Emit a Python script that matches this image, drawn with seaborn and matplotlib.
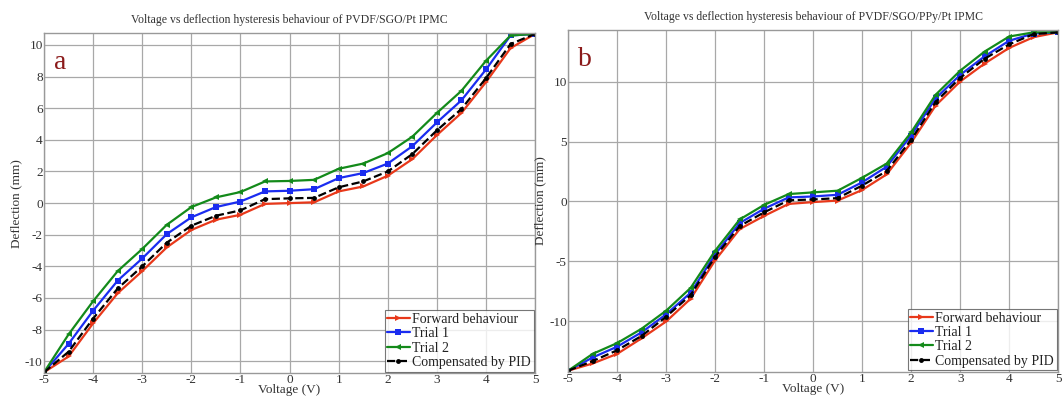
import seaborn as sns
import matplotlib.pyplot as plt
import pandas as pd

voltage = [-5, -4.5, -4, -3.5, -3, -2.5, -2, -1.5, -1, -0.5, 0,
           0.5, 1, 1.5, 2, 2.5, 3, 3.5, 4, 4.5, 5]

# panel a : PVDF/SGO/Pt
a_forward = [-10.7, -9.7, -7.6, -5.7, -4.3, -2.8, -1.7, -1.05, -0.74, -0.05, 0.0,
             0.05, 0.74, 1.05, 1.73, 2.78, 4.3, 5.7, 7.65, 9.8, 10.7]
a_trial1 = [-10.7, -8.9, -6.8, -4.9, -3.5, -1.96, -0.9, -0.25, 0.1, 0.74, 0.78,
            0.88, 1.58, 1.9, 2.5, 3.6, 5.1, 6.5, 8.45, 10.6, 10.7]
a_trial2 = [-10.7, -8.3, -6.2, -4.3, -2.9, -1.37, -0.25, 0.36, 0.7, 1.37, 1.4,
            1.47, 2.17, 2.5, 3.16, 4.2, 5.7, 7.1, 9.0, 10.6, 10.7]
a_pid = [-10.7, -9.4, -7.3, -5.4, -4.0, -2.5, -1.43, -0.8, -0.46, 0.25, 0.3,
         0.33, 1.0, 1.37, 2.0, 3.1, 4.6, 5.95, 7.9, 10.06, 10.7]

# panel b : PVDF/SGO/PPy/Pt
b_forward = [-14.1, -13.5, -12.7, -11.4, -10.0, -8.1, -4.9, -2.3, -1.2, -0.2, -0.05,
             0.08, 0.96, 2.26, 4.9, 8.0, 10.0, 11.5, 12.8, 13.7, 14.1]
b_trial1 = [-14.1, -13.0, -12.1, -10.9, -9.4, -7.6, -4.4, -1.8, -0.6, 0.34, 0.42,
            0.56, 1.6, 2.9, 5.5, 8.6, 10.55, 12.1, 13.4, 14.0, 14.1]
b_trial2 = [-14.1, -12.7, -11.8, -10.6, -9.1, -7.2, -4.1, -1.5, -0.28, 0.62, 0.76,
            0.9, 1.98, 3.16, 5.76, 8.9, 10.9, 12.5, 13.75, 14.1, 14.1]
b_pid = [-14.1, -13.3, -12.4, -11.2, -9.6, -7.8, -4.6, -2.05, -0.9, 0.1, 0.17,
         0.28, 1.33, 2.54, 5.14, 8.3, 10.3, 11.9, 13.1, 13.95, 14.1]

titles = ["Voltage vs deflection hysteresis behaviour of PVDF/SGO/Pt IPMC",
          "Voltage vs deflection hysteresis behaviour of PVDF/SGO/PPy/Pt IPMC"]
letters = ["a", "b"]
series_names = ["Forward behaviour", "Trial 1", "Trial 2", "Compensated by PID"]

sns.set_style("whitegrid")
plt.rcParams['font.family'] = ['Liberation Serif', 'DejaVu Serif']
plt.rcParams['axes.unicode_minus'] = False

fig = plt.figure(figsize=(10.64, 3.99), dpi=100)
ax1 = fig.add_axes([0.0414, 0.065, 0.4615, 0.852])
ax2 = fig.add_axes([0.534, 0.068, 0.4605, 0.857])

# colour, marker, linestyle, marker size
styles = [("#e8381a", ">", "-", 4.5), ("#1a2cf0", "s", "-", 4.5),
          ("#138a1a", "<", "-", 4.5), ("black", "o", "--", 3.5)]

panels = [(ax1, [a_forward, a_trial1, a_trial2, a_pid], (-10.75, 10.75), range(-10, 11, 2)),
          (ax2, [b_forward, b_trial1, b_trial2, b_pid], (-14.2, 14.3), [-10, -5, 0, 5, 10])]

for i, (ax, data, ylim, yt) in enumerate(panels):
    for name, vals, (c, m, ls, ms) in zip(series_names, data, styles):
        df = pd.DataFrame({"Voltage": voltage, "Deflection": vals})
        sns.lineplot(data=df, x="Voltage", y="Deflection", ax=ax, color=c,
                     marker=m, markersize=ms, markeredgewidth=0, linestyle=ls,
                     linewidth=1.6, label=name)
    ax.set_xlim(-5, 5)
    ax.set_ylim(*ylim)
    ax.set_xticks(range(-5, 6))
    ax.set_yticks(list(yt))
    ax.grid(True, color="#a8a8a8", linewidth=0.9)
    for s in ax.spines.values():
        s.set_color("#999999")
        s.set_linewidth(1)
    ax.tick_params(labelsize=9.5, colors="#333333", length=0, pad=1)
    ax.set_xlabel("Voltage (V)", fontsize=9.5, color="#333333", labelpad=-1.5)
    ax.set_ylabel("Deflection (mm)", fontsize=9.5, color="#333333", labelpad=2)
    ax.set_title(titles[i], fontsize=8.5, color="#333333", pad=7)
    ax.text(0.02, 0.95, letters[i], transform=ax.transAxes, fontsize=20,
            color="#8b1a1a", va="top", ha="left")
    leg = ax.legend(loc="lower right", fontsize=10, frameon=True, fancybox=False,
                    borderpad=0.2, labelspacing=0.1, handlelength=1.6,
                    handletextpad=0.2, borderaxespad=0.1)
    leg.get_frame().set_edgecolor("#555555")
    leg.get_frame().set_linewidth(0.8)
    for t in leg.get_texts():
        t.set_color("#222222")

fig.savefig("out.png", dpi=100)
